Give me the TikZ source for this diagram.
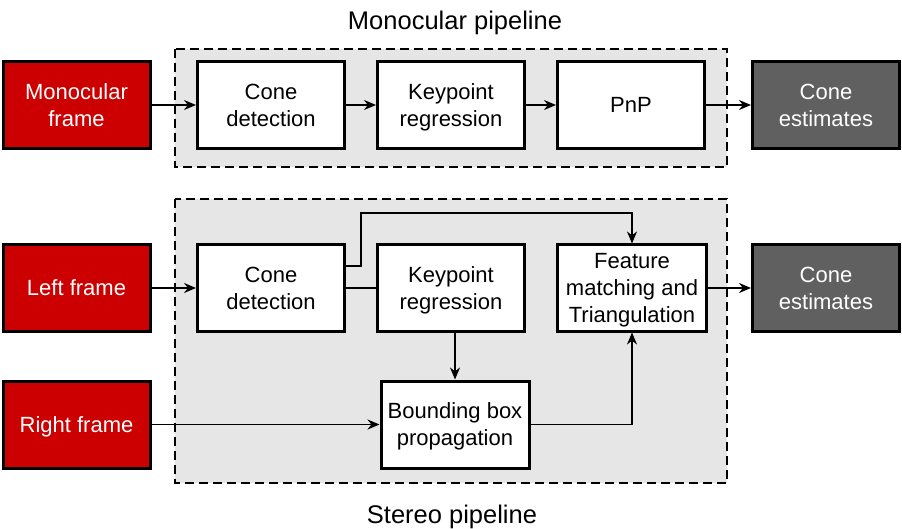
\documentclass[tikz,border=0pt]{standalone}
\usepackage{amsmath}
\usepackage{fontspec}
\setmainfont{Liberation Sans}
\usetikzlibrary{arrows.meta}
\definecolor{redbox}{HTML}{CC0000}
\definecolor{darkbox}{HTML}{606060}
\definecolor{panel}{HTML}{E6E6E6}
\newcommand{\lastline}[1]{\smash[b]{#1}}
\begin{document}
\begin{tikzpicture}[x=1pt,y=-1pt,
 every node/.style={font=\fontsize{22}{27}\selectfont, align=center, inner sep=0pt},
 box/.style={draw=black, line width=3pt, fill=white, minimum width=147pt, minimum height=87pt},
 redb/.style={box, fill=redbox, text=white},
 darkb/.style={box, fill=darkbox, text=white},
 panelbox/.style={draw=black, fill=panel, line width=2.8pt, dash pattern=on 9pt off 5pt},
 titlelabel/.style={font=\fontsize{25.5}{30}\selectfont, anchor=base},
 conn/.style={line width=1.5pt},
 arr/.style={conn, -{Stealth[length=12pt,width=10pt]}}]
\useasboundingbox (0,0) rectangle (902,529);
% panels
\draw[panelbox] (175,49) rectangle (727,167);
\draw[panelbox] (175,199) rectangle (727,483);
\node[titlelabel] (tmono) at (455,30) {Monocular pipeline};
\node[titlelabel] (tstereo) at (452,523) {Stereo pipeline};
% monocular
\node[redb] (mf) at (76.5,105) {Monocular\\\lastline{frame}};
\node[box] (mcd) at (271,105) {Cone\\\lastline{detection}};
\node[box] (mkr) at (451,105) {Keypoint\\\lastline{regression}};
\node[box] (mpnp) at (631,105) {\lastline{PnP}};
\node[darkb] (mce) at (826,105) {Cone\\\lastline{estimates}};
\draw[arr] (mf) -- (mcd);
\draw[arr] (mcd) -- (mkr);
\draw[arr] (mkr) -- (mpnp);
\draw[arr] (mpnp) -- (mce);
% stereo
\node[redb] (lf) at (76.5,288) {\lastline{Left frame}};
\node[redb] (rf) at (76.5,424.5) {\lastline{Right frame}};
\node[box, minimum height=86pt] (scd) at (271,288) {Cone\\\lastline{detection}};
\node[box, minimum height=86pt] (skr) at (451,288) {Keypoint\\\lastline{regression}};
\node[box, minimum height=86pt, minimum width=149pt] (sfm) at (632,288) {Feature\\matching and\\\lastline{Triangulation}};
\node[darkb] (sce) at (826,288) {Cone\\\lastline{estimates}};
\node[box, minimum width=148pt] (sbb) at (455,424.5) {Bounding box\\\lastline{propagation}};
\coordinate (j1) at (361,213);
\draw[arr] (lf) -- (scd);
\draw[conn] (scd) -- (skr);
\draw[arr] ([yshift=22pt]scd.east) -| (j1) -| (sfm.north);
\draw[arr] (sbb.north |- skr.south) -- (sbb.north);
\draw[arr] (rf) -- (sbb);
\draw[arr] (sbb.east) -| (sfm.south);
\draw[arr] (sfm) -- (sce);
\end{tikzpicture}
\end{document}
